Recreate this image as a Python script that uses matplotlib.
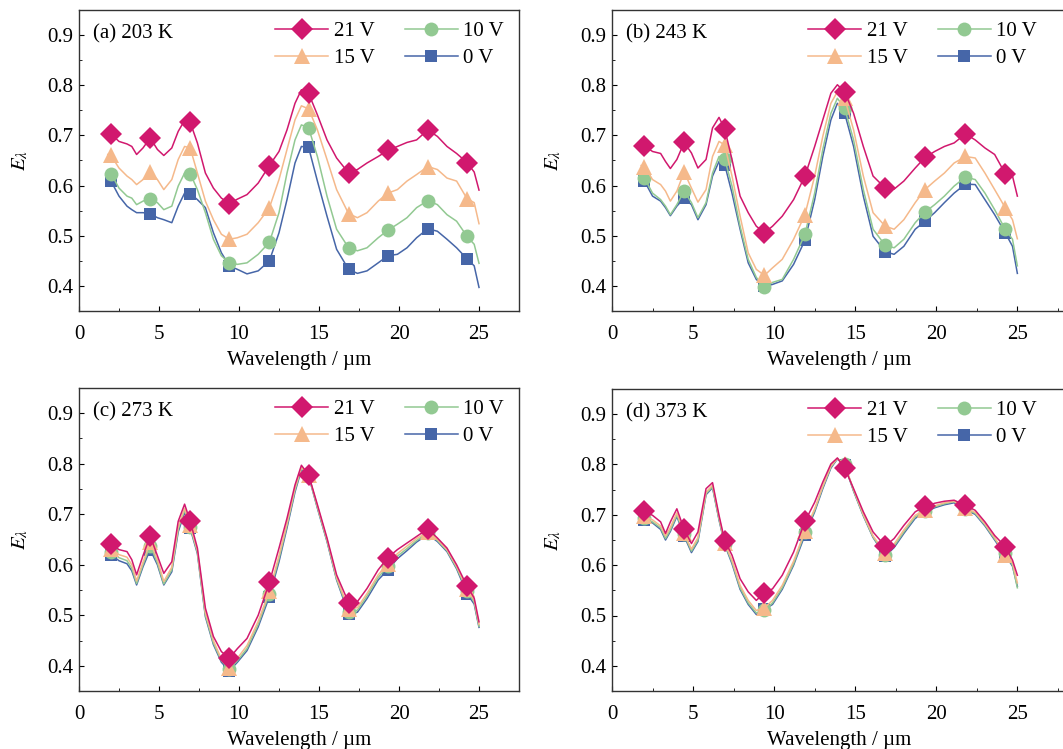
import matplotlib
matplotlib.use("Agg")
import matplotlib.pyplot as plt
import matplotlib.ticker as mticker
from matplotlib.lines import Line2D

plt.rcParams.update({
    "font.family": "serif",
    "font.serif": ["Liberation Serif", "DejaVu Serif"],
    "mathtext.fontset": "stix",
    "font.size": 15,
    "axes.linewidth": 1.0,
    "axes.edgecolor": "#333333",
    "xtick.direction": "in",
    "ytick.direction": "in",
    "xtick.major.size": 3.6,
    "ytick.major.size": 3.6,
    "xtick.minor.size": 2.2,
    "ytick.minor.size": 2.2,
    "xtick.major.pad": 10,
    "ytick.major.pad": 4,
})

# shared wavelength grid (um); markers sit on MARKER_IDX
WAVELENGTH = [1.8, 2.0, 2.5, 3.0, 3.3, 3.6, 4.0, 4.45, 4.9, 5.3, 5.8, 6.2, 6.6, 6.95,
              7.4, 7.9, 8.4, 8.9, 9.4, 9.9, 10.5, 11.2, 11.9, 12.5, 13.0, 13.5, 13.9,
              14.35, 14.9, 15.5, 16.1, 16.85, 17.4, 18.0, 18.7, 19.3, 19.9, 20.5, 21.1,
              21.8, 22.4, 23.0, 23.6, 24.25, 24.7, 25.0]
MARKER_IDX = [1, 7, 13, 18, 22, 27, 31, 35, 39, 43]

VOLTAGES = ["21 V", "15 V", "10 V", "0 V"]
PANEL_LABELS = ["(a) 203 K", "(b) 243 K", "(c) 273 K", "(d) 373 K"]

# (a) 203 K
A_21V = [0.705, 0.703, 0.688, 0.683, 0.678, 0.662, 0.675, 0.695, 0.672, 0.660, 0.675, 0.708,
         0.730, 0.726, 0.685, 0.625, 0.595, 0.575, 0.564, 0.573, 0.582, 0.605, 0.640, 0.668,
         0.711, 0.764, 0.791, 0.784, 0.741, 0.691, 0.655, 0.625, 0.632, 0.645, 0.658, 0.670,
         0.678, 0.686, 0.691, 0.711, 0.698, 0.678, 0.664, 0.646, 0.627, 0.591]
A_15V = [0.662, 0.660, 0.635, 0.619, 0.612, 0.602, 0.612, 0.627, 0.612, 0.592, 0.612, 0.652,
         0.678, 0.675, 0.625, 0.569, 0.532, 0.503, 0.493, 0.496, 0.503, 0.526, 0.556, 0.612,
         0.672, 0.731, 0.759, 0.753, 0.711, 0.652, 0.592, 0.544, 0.536, 0.546, 0.569, 0.585,
         0.592, 0.609, 0.622, 0.638, 0.632, 0.615, 0.609, 0.574, 0.566, 0.524]
A_10V = [0.622, 0.624, 0.595, 0.579, 0.575, 0.562, 0.569, 0.574, 0.566, 0.552, 0.559, 0.599,
         0.625, 0.624, 0.592, 0.546, 0.493, 0.460, 0.446, 0.443, 0.446, 0.463, 0.487, 0.546,
         0.625, 0.691, 0.721, 0.715, 0.658, 0.579, 0.513, 0.476, 0.470, 0.476, 0.496, 0.511,
         0.523, 0.536, 0.556, 0.570, 0.562, 0.542, 0.529, 0.499, 0.483, 0.445]
A_0V = [0.612, 0.609, 0.579, 0.559, 0.552, 0.546, 0.546, 0.544, 0.536, 0.532, 0.526, 0.559,
        0.585, 0.584, 0.572, 0.556, 0.506, 0.466, 0.440, 0.433, 0.424, 0.430, 0.450, 0.506,
        0.572, 0.645, 0.678, 0.676, 0.609, 0.539, 0.473, 0.433, 0.425, 0.430, 0.446, 0.460,
        0.463, 0.476, 0.496, 0.514, 0.509, 0.493, 0.476, 0.454, 0.440, 0.397]

# (b) 243 K
B_21V = [0.682, 0.679, 0.668, 0.664, 0.648, 0.634, 0.652, 0.686, 0.665, 0.635, 0.652, 0.715,
         0.736, 0.713, 0.652, 0.579, 0.546, 0.519, 0.506, 0.519, 0.539, 0.572, 0.619, 0.678,
         0.731, 0.784, 0.801, 0.787, 0.744, 0.678, 0.619, 0.595, 0.593, 0.609, 0.635, 0.656,
         0.668, 0.678, 0.685, 0.703, 0.691, 0.675, 0.662, 0.624, 0.619, 0.579]
B_15V = [0.640, 0.638, 0.612, 0.602, 0.589, 0.569, 0.589, 0.627, 0.595, 0.567, 0.592, 0.658,
         0.688, 0.681, 0.619, 0.539, 0.466, 0.433, 0.421, 0.436, 0.453, 0.493, 0.542, 0.619,
         0.698, 0.764, 0.787, 0.774, 0.711, 0.619, 0.546, 0.519, 0.513, 0.532, 0.566, 0.592,
         0.609, 0.625, 0.645, 0.658, 0.655, 0.625, 0.592, 0.556, 0.532, 0.494]
B_10V = [0.617, 0.615, 0.585, 0.572, 0.559, 0.542, 0.562, 0.589, 0.566, 0.536, 0.566, 0.625,
         0.658, 0.653, 0.599, 0.519, 0.453, 0.417, 0.397, 0.407, 0.413, 0.453, 0.503, 0.585,
         0.672, 0.744, 0.774, 0.754, 0.691, 0.592, 0.513, 0.481, 0.476, 0.493, 0.526, 0.547,
         0.562, 0.579, 0.599, 0.617, 0.612, 0.585, 0.552, 0.513, 0.493, 0.440]
B_0V = [0.611, 0.609, 0.579, 0.569, 0.556, 0.540, 0.559, 0.575, 0.562, 0.532, 0.562, 0.619,
        0.648, 0.642, 0.585, 0.513, 0.446, 0.413, 0.399, 0.403, 0.410, 0.443, 0.491, 0.572,
        0.658, 0.731, 0.764, 0.744, 0.678, 0.579, 0.499, 0.468, 0.463, 0.479, 0.513, 0.529,
        0.546, 0.566, 0.585, 0.603, 0.602, 0.572, 0.542, 0.506, 0.479, 0.425]

# (c) 273 K
C_21V = [0.642, 0.641, 0.630, 0.626, 0.610, 0.580, 0.618, 0.657, 0.618, 0.583, 0.606, 0.686,
         0.720, 0.686, 0.633, 0.514, 0.458, 0.428, 0.415, 0.434, 0.454, 0.500, 0.565, 0.633,
         0.692, 0.758, 0.797, 0.778, 0.719, 0.653, 0.580, 0.525, 0.527, 0.553, 0.590, 0.614,
         0.630, 0.643, 0.656, 0.671, 0.653, 0.633, 0.600, 0.558, 0.534, 0.487]
C_15V = [0.633, 0.632, 0.620, 0.615, 0.600, 0.568, 0.605, 0.645, 0.610, 0.567, 0.595, 0.675,
         0.712, 0.678, 0.628, 0.505, 0.450, 0.413, 0.395, 0.415, 0.440, 0.488, 0.548, 0.618,
         0.682, 0.752, 0.793, 0.778, 0.716, 0.650, 0.575, 0.512, 0.515, 0.543, 0.580, 0.602,
         0.622, 0.637, 0.652, 0.665, 0.650, 0.630, 0.597, 0.552, 0.530, 0.482]
C_10V = [0.627, 0.626, 0.614, 0.608, 0.593, 0.563, 0.600, 0.638, 0.604, 0.562, 0.590, 0.670,
         0.708, 0.675, 0.625, 0.500, 0.445, 0.410, 0.393, 0.410, 0.434, 0.482, 0.543, 0.612,
         0.678, 0.748, 0.791, 0.777, 0.714, 0.648, 0.572, 0.507, 0.510, 0.538, 0.575, 0.597,
         0.617, 0.632, 0.648, 0.663, 0.648, 0.628, 0.594, 0.548, 0.526, 0.478]
C_0V = [0.621, 0.620, 0.608, 0.602, 0.588, 0.560, 0.596, 0.630, 0.600, 0.560, 0.586, 0.665,
        0.704, 0.672, 0.622, 0.497, 0.442, 0.407, 0.390, 0.407, 0.430, 0.477, 0.537, 0.606,
        0.673, 0.744, 0.788, 0.776, 0.712, 0.646, 0.570, 0.503, 0.506, 0.533, 0.570, 0.590,
        0.612, 0.628, 0.645, 0.660, 0.646, 0.626, 0.592, 0.543, 0.522, 0.476]

# (d) 373 K
D_21V = [0.710, 0.707, 0.699, 0.686, 0.663, 0.686, 0.712, 0.671, 0.643, 0.666, 0.752, 0.764,
         0.699, 0.649, 0.620, 0.573, 0.547, 0.530, 0.545, 0.553, 0.580, 0.626, 0.687, 0.725,
         0.765, 0.801, 0.813, 0.793, 0.752, 0.706, 0.666, 0.638, 0.653, 0.679, 0.706, 0.717,
         0.723, 0.727, 0.729, 0.719, 0.709, 0.686, 0.659, 0.637, 0.610, 0.580]
D_15V = [0.700, 0.697, 0.690, 0.678, 0.658, 0.675, 0.704, 0.663, 0.632, 0.655, 0.745, 0.759,
         0.695, 0.645, 0.610, 0.560, 0.530, 0.510, 0.515, 0.530, 0.560, 0.608, 0.668, 0.712,
         0.757, 0.797, 0.812, 0.800, 0.750, 0.701, 0.658, 0.625, 0.642, 0.670, 0.699, 0.710,
         0.718, 0.724, 0.727, 0.713, 0.705, 0.682, 0.655, 0.620, 0.605, 0.565]
D_10V = [0.696, 0.693, 0.686, 0.674, 0.653, 0.670, 0.700, 0.661, 0.628, 0.650, 0.742, 0.756,
         0.692, 0.643, 0.606, 0.555, 0.525, 0.505, 0.510, 0.525, 0.555, 0.603, 0.665, 0.709,
         0.755, 0.795, 0.812, 0.800, 0.748, 0.699, 0.656, 0.620, 0.638, 0.666, 0.696, 0.707,
         0.716, 0.722, 0.726, 0.712, 0.703, 0.680, 0.652, 0.625, 0.600, 0.555]
D_0V = [0.693, 0.690, 0.684, 0.671, 0.650, 0.667, 0.697, 0.658, 0.625, 0.647, 0.740, 0.754,
        0.690, 0.641, 0.603, 0.552, 0.522, 0.502, 0.512, 0.522, 0.552, 0.600, 0.660, 0.706,
        0.752, 0.793, 0.811, 0.799, 0.747, 0.698, 0.655, 0.618, 0.635, 0.663, 0.693, 0.705,
        0.714, 0.720, 0.724, 0.710, 0.701, 0.678, 0.650, 0.620, 0.598, 0.558]

PANEL_DATA = [
    [A_21V, A_15V, A_10V, A_0V],
    [B_21V, B_15V, B_10V, B_0V],
    [C_21V, C_15V, C_10V, C_0V],
    [D_21V, D_15V, D_10V, D_0V],
]

COLORS = ["#D1186E", "#F5B98B", "#92C992", "#4666A8"]
MARKERS = ["D", "^", "o", "s"]
MSIZES = [11, 11, 10, 9]

W, H = 1063, 749
fig = plt.figure(figsize=(W / 100, H / 100), dpi=100)

# axes boxes in pixels: left, top, width, height
boxes = [(79, 10, 440, 301), (612, 10, 454, 301),
         (79, 388, 440, 303), (612, 389, 454, 302)]
xmax = [27.5, 28.0, 27.5, 28.0]

for k, (l, t, w, h) in enumerate(boxes):
    ax = fig.add_axes([l / W, 1 - (t + h) / H, w / W, h / H])

    # draw 0 V first so 21 V ends up on top
    for i in reversed(range(4)):
        ax.plot(WAVELENGTH, PANEL_DATA[k][i], color=COLORS[i], lw=1.1,
                marker=MARKERS[i], ms=MSIZES[i], mec=COLORS[i], mew=0,
                markevery=MARKER_IDX)

    ax.set_xlim(0, xmax[k])
    ax.set_ylim(0.35, 0.95)
    ax.xaxis.set_major_locator(mticker.MultipleLocator(5))
    ax.xaxis.set_minor_locator(mticker.MultipleLocator(2.5))
    ax.yaxis.set_major_locator(mticker.FixedLocator([0.4, 0.5, 0.6, 0.7, 0.8, 0.9]))
    ax.yaxis.set_minor_locator(mticker.MultipleLocator(0.05))
    ax.yaxis.set_major_formatter(mticker.FormatStrFormatter("%.1f"))

    ax.set_xlabel("Wavelength / µm", labelpad=5)
    ax.set_ylabel(r"$E_\lambda$", labelpad=12)

    ax.text(14 / w, 1 - 24 / h, PANEL_LABELS[k], transform=ax.transAxes,
            ha="left", va="center", fontsize=15)

    handles = [Line2D([], [], color=COLORS[i], lw=1.1, marker=MARKERS[i],
                      ms=MSIZES[i], mew=0) for i in range(4)]
    ax.legend(handles, VOLTAGES, ncol=2, loc="upper left",
              bbox_to_anchor=(188 / w, 1 - 3 / h), frameon=False, fontsize=15,
              handlelength=2.55, handletextpad=0.25, columnspacing=1.45,
              labelspacing=0.38, borderpad=0.4, borderaxespad=0)

fig.savefig("out.png", dpi=100)
